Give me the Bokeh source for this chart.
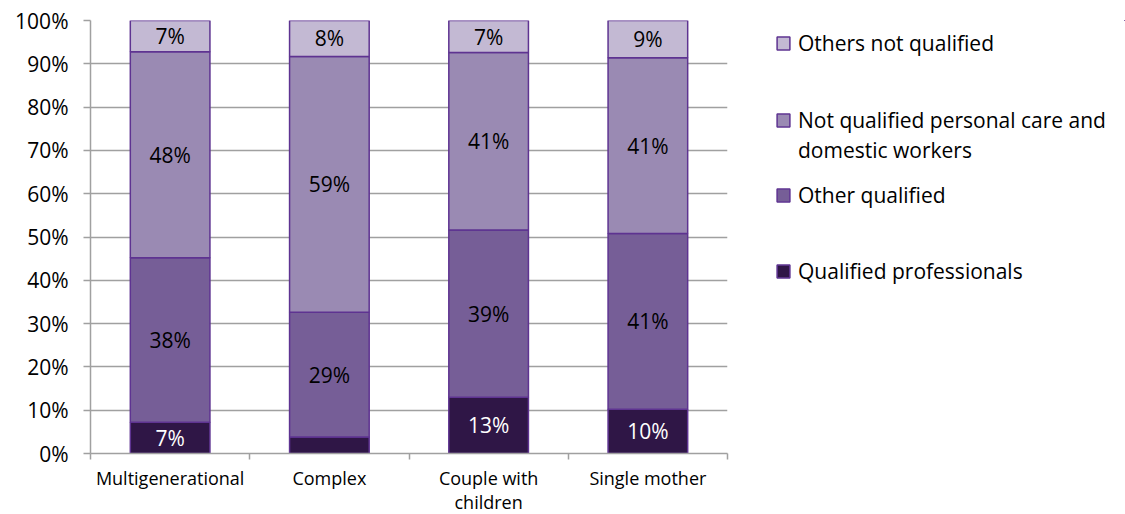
from bokeh.plotting import figure
from bokeh.layouts import row
from bokeh.models import (ColumnDataSource, FixedTicker, Legend, LegendItem,
                          Range1d, PrintfTickFormatter)
from bokeh.core.properties import value
from bokeh.embed import file_html
from bokeh.resources import INLINE

# ---- data (percent) ----
categories = ["Multigenerational", "Complex", "Couple with children", "Single mother"]
tick_labels = ["Multigenerational", "Complex", "Couple with\nchildren", "Single mother"]
series = ["Qualified professionals", "Other qualified",
          "Not qualified personal care and domestic workers", "Others not qualified"]
qualified_professionals = [7.2, 3.8, 13.0, 10.2]
other_qualified = [38.0, 28.8, 38.6, 40.6]
not_qualified_care = [47.6, 59.1, 41.0, 40.6]
others_not_qualified = [7.2, 8.3, 7.4, 8.6]
y_ticks = [0, 10, 20, 30, 40, 50, 60, 70, 80, 90, 100]

colors = ["#2f1646", "#765e97", "#9a8ab3", "#c3b9d3"]
label_colors = ["white", "black", "black", "black"]
LINE = "#5e3391"
FONT = "Open Sans"

values = [qualified_professionals, other_qualified, not_qualified_care, others_not_qualified]
keys = ["qp", "oq", "nq", "on"]
xs = [i + 0.5 for i in range(len(categories))]

data = {"x": xs}
for k, v in zip(keys, values):
    data[k] = v
source = ColumnDataSource(data)

p = figure(width=750, height=514, output_backend="svg", toolbar_location=None,
           x_range=Range1d(0, len(categories)), y_range=Range1d(0, 100),
           min_border_left=90, min_border_right=23, min_border_top=20,
           min_border_bottom=61)
p.frame_width = 637
p.frame_height = 433
p.outline_line_color = None

renderers = p.vbar_stack(keys, x="x", width=0.5, source=source, fill_color=colors,
                         line_color=LINE, line_width=1.5)

# segment labels
lx, ly, lt, lc = [], [], [], []
for ci in range(len(categories)):
    bottom = 0.0
    for si, v in enumerate(values):
        val = v[ci]
        if val >= 5:
            lx.append(xs[ci])
            ly.append(bottom + val / 2)
            lt.append(f"{round(val)}%")
            lc.append(label_colors[si])
        bottom += val
lsrc = ColumnDataSource(dict(x=lx, y=ly, t=lt, c=lc))
p.text(x="x", y="y", text="t", text_color="c", source=lsrc, text_align="center",
       text_baseline="middle", text_font=value(FONT), text_font_size="21px")

# grid
p.xgrid.grid_line_color = None
p.ygrid.grid_line_color = "#a0a0a0"
p.ygrid.grid_line_width = 1.5
p.ygrid.ticker = FixedTicker(ticks=y_ticks)

# y axis
p.yaxis.ticker = FixedTicker(ticks=y_ticks)
p.yaxis.formatter = PrintfTickFormatter(format="%d%%")
p.yaxis.axis_line_color = "#a0a0a0"
p.yaxis.axis_line_width = 1.5
p.yaxis.major_tick_line_color = "#a0a0a0"
p.yaxis.major_tick_line_width = 1.5
p.yaxis.major_tick_out = 7
p.yaxis.major_tick_in = 0
p.yaxis.minor_tick_line_color = None
p.yaxis.major_label_text_font = FONT
p.yaxis.major_label_text_font_size = "21px"
p.yaxis.major_label_text_color = "black"
p.yaxis.major_label_standoff = 15

# x axis
p.xaxis.ticker = FixedTicker(ticks=xs, minor_ticks=list(range(len(categories) + 1)))
p.xaxis.major_label_overrides = {x: t for x, t in zip(xs, tick_labels)}
p.xaxis.axis_line_color = "#a0a0a0"
p.xaxis.axis_line_width = 1.5
p.xaxis.major_tick_line_color = None
p.xaxis.minor_tick_line_color = "#a0a0a0"
p.xaxis.minor_tick_line_width = 1.5
p.xaxis.minor_tick_out = 6
p.xaxis.minor_tick_in = 0
p.xaxis.major_label_text_font = FONT
p.xaxis.major_label_text_font_size = "18px"
p.xaxis.major_label_text_line_height = 1.0
p.xaxis.major_label_text_color = "black"
p.xaxis.major_label_standoff = 6

# ---- legend panel ----
q = figure(width=375, height=514, output_backend="svg", toolbar_location=None,
           x_range=Range1d(-20, -19), y_range=Range1d(-20, -19),
           min_border_left=0, min_border_right=0, min_border_top=20, min_border_bottom=61)
q.frame_width = 375
q.frame_height = 433
q.axis.visible = False
q.grid.grid_line_color = None
q.outline_line_color = None
# same stacked bars, kept out of this panel's view; they only lend their style to the legend
leg_renderers = q.vbar_stack(keys, x="x", width=0.5, source=source, fill_color=colors,
                             line_color=LINE, line_width=1.5)


def add_legend(label, rends, ybot):
    lg = Legend(items=[LegendItem(label=label, renderers=rends)], location=(25, ybot))
    lg.border_line_color = None
    lg.background_fill_alpha = 0
    lg.label_text_font = FONT
    lg.label_text_font_size = "21px"
    lg.label_text_color = "black"
    lg.glyph_width = 16
    lg.glyph_height = 16
    lg.label_standoff = 7
    lg.padding = 0
    lg.margin = 0
    q.add_layout(lg, "center")
    return lg


# legend rows, top to bottom (offset of each legend's bottom above the frame bottom)
add_legend(series[3], [leg_renderers[3]], 396)
add_legend("Not qualified personal care and", [leg_renderers[2]], 319)
add_legend("domestic workers", [], 289)
add_legend(series[1], [leg_renderers[1]], 244)
add_legend(series[0], [leg_renderers[0]], 168)

layout = row(p, q)
open("out.html", "w").write(file_html(layout, INLINE))
